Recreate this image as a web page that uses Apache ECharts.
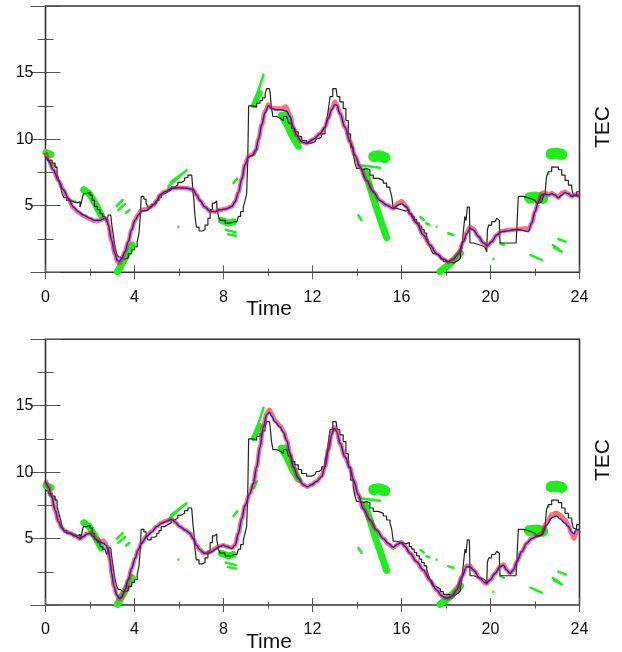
<!DOCTYPE html>
<html>
<head>
<meta charset="utf-8">
<script src="https://cdn.jsdelivr.net/npm/echarts/dist/echarts.min.js"></script>
<style>
  html, body { margin: 0; padding: 0; background: #fff; }
  #chart { width: 622px; height: 652px; }
</style>
</head>
<body>
<div id="chart"></div>
<script>
// Hour-of-day ticks and TEC ticks
const hourTicks = [0, 4, 8, 12, 16, 20, 24];
const tecTicks = [5, 10, 15];

// Observed TEC (stepped record), shared by both panels: [hour, TEC]
const observed = [
  [0.0,8.6],[0.12,8.4],[0.3,8.2],[0.43,7.9],[0.52,7.4],[0.6,6.9],[0.68,6.4],[0.75,5.9],[0.83,5.6],
  [0.95,5.4],[1.1,5.3],[1.25,5.2],[1.4,5.3],[1.55,4.9],[1.63,5.4],[1.7,5.9],[1.85,6.0],[2.0,5.8],
  [2.1,5.4],[2.2,4.95],[2.33,4.7],[2.45,4.4],[2.57,4.2],[2.67,4.05],[2.75,3.8],[2.82,4.3],[2.93,4.4],
  [2.97,3.7],[3.03,3.0],[3.08,2.4],[3.13,1.9],[3.2,1.4],[3.28,1.15],[3.37,1.0],[3.5,1.0],[3.6,1.1],
  [3.72,1.4],[3.87,1.7],[4.0,1.9],[4.12,2.3],[4.2,2.9],[4.26,4.2],[4.3,5.7],[4.42,5.5],[4.52,5.2],
  [4.6,4.9],[4.75,5.1],[4.9,5.2],[5.0,5.4],[5.1,5.6],[5.2,5.9],[5.35,6.05],[5.5,6.2],[5.65,6.4],
  [5.8,6.55],[5.95,6.75],[6.1,6.9],[6.25,7.1],[6.4,7.3],[6.57,7.4],[6.6,6.7],[6.63,6.0],[6.67,5.4],
  [6.72,4.2],[6.78,3.4],[6.9,3.1],[7.05,3.2],[7.17,3.55],[7.3,4.05],[7.4,4.7],[7.5,5.2],[7.6,5.35],
  [7.7,4.9],[7.77,4.2],[7.85,3.9],[8.07,3.7],[8.3,3.8],[8.5,3.8],[8.6,3.9],[8.67,4.2],[8.77,4.55],
  [8.89,4.9],[8.97,5.4],[9.04,5.9],[9.09,8.4],[9.13,12.5],[9.34,12.4],[9.49,12.7],[9.64,12.9],
  [9.75,13.1],[9.87,13.4],[9.94,13.8],[10.06,13.8],[10.1,13.4],[10.15,12.4],[10.22,11.7],[10.39,11.55],
  [10.57,11.4],[10.69,11.7],[10.84,11.55],[10.92,11.2],[11.06,10.8],[11.21,10.55],[11.36,10.2],
  [11.51,9.9],[11.73,9.7],[11.96,9.8],[12.1,9.9],[12.18,10.05],[12.3,10.2],[12.41,10.4],[12.56,10.8],
  [12.64,11.4],[12.71,12.2],[12.79,13.2],[12.91,13.8],[13.06,13.8],[13.11,13.2],[13.23,12.8],
  [13.38,12.3],[13.5,11.4],[13.61,10.4],[13.71,9.4],[13.83,8.9],[13.91,8.2],[13.98,7.8],[14.13,7.7],
  [14.28,7.8],[14.43,7.7],[14.58,7.3],[14.73,7.05],[14.96,6.9],[15.18,6.7],[15.33,6.4],[15.48,6.2],
  [15.56,5.7],[15.63,4.8],[15.78,4.7],[16.0,4.6],[16.2,4.7],[16.35,4.4],[16.46,4.2],[16.57,3.95],
  [16.68,3.7],[16.8,3.45],[16.91,3.2],[17.02,2.95],[17.13,2.7],[17.2,2.3],[17.28,1.9],[17.35,1.6],
  [17.43,1.4],[17.55,1.3],[17.65,1.2],[17.75,1.0],[17.88,0.8],[18.1,0.7],[18.33,0.8],[18.45,0.9],
  [18.55,1.05],[18.65,1.4],[18.7,1.7],[18.78,3.05],[18.85,4.2],[18.9,3.9],[18.96,4.9],[19.05,4.9],
  [19.08,2.2],[19.23,2.05],[19.53,1.9],[19.75,1.9],[19.83,1.55],[19.86,3.2],[19.92,3.55],[20.05,3.8],
  [20.2,3.9],[20.28,4.05],[20.35,3.9],[20.4,3.4],[20.43,2.2],[21.15,2.2],[21.18,3.2],[21.25,5.7],
  [21.48,5.55],[21.78,5.4],[22.0,5.3],[22.07,5.2],[22.2,5.3],[22.3,5.4],[22.37,5.7],[22.45,5.9],
  [22.52,7.2],[22.6,7.55],[22.75,7.9],[22.9,7.9],[23.05,7.7],[23.2,7.3],[23.35,6.9],[23.5,6.55],
  [23.65,6.3],[23.72,5.8],[23.8,5.7],[23.87,6.05],[24.0,6.0]
];

// Model fit, upper panel
const fitUpper = [
  [0.0,8.7],[0.13,8.4],[0.35,7.7],[0.58,6.9],[0.8,6.2],[1.03,5.55],[1.25,4.9],[1.48,4.55],[1.7,4.3],
  [2.0,4.05],[2.22,3.9],[2.45,3.9],[2.67,4.05],[2.75,3.95],[2.82,3.55],[2.97,2.4],[3.12,1.4],[3.23,0.9],
  [3.32,0.8],[3.42,1.05],[3.57,1.55],[3.72,2.3],[3.87,3.2],[4.02,3.9],[4.17,4.3],[4.32,4.6],[4.55,4.65],
  [4.7,4.85],[4.85,5.05],[5.0,5.4],[5.15,5.8],[5.37,6.05],[5.67,6.3],[6.04,6.35],[6.42,6.3],[6.64,6.2],
  [6.79,5.8],[6.94,5.4],[7.17,4.9],[7.39,4.6],[7.62,4.55],[7.84,4.7],[8.14,4.78],[8.37,4.95],[8.52,5.3],
  [8.67,6.0],[8.82,7.0],[8.97,8.1],[9.12,8.65],[9.3,8.8],[9.46,9.2],[9.57,10.0],[9.72,11.1],[9.87,12.0],
  [10.02,12.5],[10.17,12.3],[10.39,12.2],[10.61,12.2],[10.84,12.1],[10.99,11.7],[11.14,10.9],[11.29,10.3],
  [11.51,9.8],[11.74,9.7],[12.04,10.0],[12.34,10.4],[12.56,10.9],[12.71,11.55],[12.86,12.2],[13.01,12.6],
  [13.09,12.55],[13.24,11.9],[13.46,10.9],[13.69,9.8],[13.91,8.8],[14.13,7.9],[14.43,6.9],[14.73,6.05],
  [15.03,5.4],[15.33,5.05],[15.63,4.8],[15.85,5.05],[16.0,5.15],[16.23,4.9],[16.38,4.4],[16.68,3.7],
  [16.98,2.8],[17.28,2.05],[17.58,1.4],[17.88,0.98],[18.1,0.8],[18.33,0.98],[18.55,1.4],[18.78,2.3],
  [18.93,2.9],[19.08,3.3],[19.23,3.2],[19.45,2.7],[19.68,2.2],[19.86,2.0],[20.05,2.3],[20.28,2.8],
  [20.5,3.05],[20.73,3.1],[21.03,3.2],[21.33,3.2],[21.55,3.1],[21.7,3.05],[21.85,3.7],[22.0,4.55],
  [22.15,5.3],[22.3,5.8],[22.45,5.9],[22.6,5.8],[22.75,5.9],[22.9,5.8],[23.05,5.6],[23.2,5.8],
  [23.35,6.0],[23.5,5.9],[23.65,5.7],[23.8,5.8],[24.0,5.7]
];

// Sample estimates, upper panel
const samplesUpper = [
  [0.0,9.0],[0.13,8.5],[0.35,7.7],[0.58,6.9],[0.8,6.2],[1.03,5.5],[1.25,4.85],[1.48,4.5],[1.7,4.25],
  [2.0,4.0],[2.22,3.85],[2.45,3.9],[2.67,4.05],[2.75,3.95],[2.82,3.55],[2.97,2.4],[3.12,1.35],[3.23,0.8],
  [3.32,0.7],[3.42,1.0],[3.57,1.55],[3.72,2.3],[3.87,3.2],[4.02,3.9],[4.17,4.35],[4.32,4.7],[4.55,4.75],
  [4.7,4.9],[4.85,5.05],[5.0,5.4],[5.15,5.8],[5.37,6.05],[5.67,6.3],[6.04,6.35],[6.42,6.3],[6.64,6.2],
  [6.79,5.8],[6.94,5.4],[7.17,4.9],[7.39,4.6],[7.62,4.55],[7.84,4.7],[8.14,4.8],[8.37,4.95],[8.52,5.3],
  [8.67,6.0],[8.82,7.0],[8.97,8.1],[9.12,8.7],[9.3,8.85],[9.46,9.2],[9.57,10.0],[9.72,11.1],[9.87,12.1],
  [10.02,12.6],[10.17,12.35],[10.39,12.3],[10.61,12.3],[10.8,12.45],[10.99,11.8],[11.14,10.9],[11.29,10.3],
  [11.51,9.8],[11.74,9.7],[12.04,10.0],[12.34,10.4],[12.56,10.9],[12.71,11.6],[12.86,12.3],[13.01,12.8],
  [13.09,12.6],[13.24,11.9],[13.46,10.9],[13.69,9.8],[13.91,8.8],[14.13,7.9],[14.43,6.9],[14.73,6.05],
  [15.03,5.4],[15.33,5.05],[15.63,4.8],[15.85,5.2],[16.0,5.35],[16.23,4.95],[16.38,4.4],[16.68,3.7],
  [16.98,2.8],[17.28,2.05],[17.58,1.4],[17.88,0.98],[18.1,0.8],[18.33,0.98],[18.55,1.4],[18.78,2.3],
  [18.93,3.0],[19.08,3.4],[19.23,3.25],[19.45,2.7],[19.68,2.2],[19.86,2.0],[20.05,2.3],[20.28,2.8],
  [20.5,3.1],[20.73,3.15],[21.03,3.2],[21.33,3.25],[21.55,3.3],[21.7,3.2],[21.85,3.7],[22.0,4.55],
  [22.15,5.3],[22.3,5.95],[22.45,6.0],[22.6,5.8],[22.75,5.95],[22.9,5.8],[23.05,5.6],[23.2,5.95],
  [23.35,6.05],[23.5,5.9],[23.65,5.7],[23.8,5.85],[24.0,5.7]
];

// Model fit, lower panel
const fitLower = [
  [0.0,9.3],[0.13,8.9],[0.28,8.15],[0.43,7.15],[0.58,6.3],[0.73,5.8],[0.88,5.5],[1.1,5.4],[1.33,5.2],
  [1.55,5.0],[1.7,5.15],[1.85,5.35],[2.0,5.4],[2.15,5.15],[2.3,4.9],[2.45,4.75],[2.6,4.65],[2.72,4.5],
  [2.82,4.15],[2.9,3.4],[2.97,2.4],[3.08,1.4],[3.2,0.75],[3.32,0.5],[3.42,0.6],[3.57,1.1],[3.72,1.9],
  [3.87,2.75],[4.02,3.5],[4.17,4.15],[4.32,4.65],[4.55,5.15],[4.77,5.5],[5.0,5.9],[5.22,6.15],[5.45,6.3],
  [5.67,6.45],[5.82,6.25],[6.04,5.9],[6.27,5.65],[6.49,5.4],[6.64,5.0],[6.79,4.5],[6.94,4.15],[7.12,3.9],
  [7.32,3.9],[7.47,4.0],[7.62,4.2],[7.84,4.4],[7.99,4.5],[8.14,4.4],[8.37,4.25],[8.52,4.5],[8.67,5.4],
  [8.82,6.5],[8.97,7.5],[9.19,8.4],[9.34,9.15],[9.49,10.4],[9.64,11.9],[9.79,13.4],[9.94,14.3],[10.06,14.5],
  [10.17,14.2],[10.31,13.8],[10.54,13.4],[10.69,13.0],[10.84,12.4],[10.99,11.4],[11.14,10.4],[11.36,9.55],
  [11.59,9.05],[11.77,8.9],[11.96,9.05],[12.18,9.3],[12.41,9.65],[12.56,10.4],[12.71,11.65],[12.86,12.8],
  [12.97,13.3],[13.09,13.05],[13.24,12.15],[13.46,11.15],[13.69,10.3],[13.84,9.4],[14.06,8.3],[14.28,7.25],
  [14.58,6.4],[14.88,5.65],[15.18,5.0],[15.4,4.65],[15.63,4.35],[15.85,4.6],[16.0,4.7],[16.16,4.4],
  [16.38,3.9],[16.68,3.26],[16.98,2.63],[17.28,1.88],[17.58,1.13],[17.81,0.68],[18.03,0.5],[18.26,0.63],
  [18.48,1.13],[18.71,2.13],[18.93,2.88],[19.08,2.88],[19.23,2.63],[19.53,2.0],[19.8,1.63],[19.98,1.88],
  [20.2,2.38],[20.43,2.88],[20.58,3.0],[20.73,2.63],[20.88,2.38],[21.03,2.63],[21.18,3.26],[21.4,4.0],
  [21.63,4.65],[21.85,5.0],[22.07,5.15],[22.3,5.27],[22.52,6.0],[22.75,6.57],[22.97,6.7],[23.12,6.5],
  [23.35,6.15],[23.5,5.9],[23.65,5.5],[23.75,5.35],[23.84,5.65],[24.0,5.7]
];

// Sample estimates, lower panel
const samplesLower = [
  [0.0,9.4],[0.13,8.9],[0.28,8.15],[0.43,7.15],[0.58,6.3],[0.73,5.8],[0.88,5.55],[1.1,5.4],[1.33,5.2],
  [1.55,5.0],[1.7,5.15],[1.85,5.35],[2.0,5.4],[2.15,5.2],[2.3,4.95],[2.45,4.8],[2.6,4.85],[2.72,4.6],
  [2.82,4.2],[2.9,3.4],[2.97,2.4],[3.08,1.4],[3.2,0.75],[3.32,0.45],[3.42,0.6],[3.57,1.1],[3.72,1.9],
  [3.87,2.75],[4.02,3.5],[4.17,4.15],[4.32,4.7],[4.55,5.2],[4.77,5.55],[5.0,5.9],[5.22,6.2],[5.45,6.35],
  [5.67,6.45],[5.82,6.25],[6.04,5.9],[6.27,5.65],[6.49,5.4],[6.64,5.0],[6.79,4.5],[6.94,4.15],[7.12,3.9],
  [7.32,3.95],[7.47,4.05],[7.62,4.25],[7.84,4.45],[7.99,4.5],[8.14,4.4],[8.37,4.3],[8.52,4.5],[8.67,5.4],
  [8.82,6.5],[8.97,7.5],[9.19,8.4],[9.34,9.15],[9.49,10.4],[9.64,11.9],[9.79,13.5],[9.94,14.4],[10.06,14.7],
  [10.17,14.4],[10.31,13.9],[10.54,13.5],[10.69,13.1],[10.84,12.4],[10.99,11.4],[11.14,10.4],[11.36,9.55],
  [11.59,9.05],[11.77,8.9],[11.96,9.05],[12.18,9.3],[12.41,9.7],[12.56,10.4],[12.71,11.7],[12.86,12.9],
  [12.97,13.4],[13.09,13.1],[13.24,12.15],[13.46,11.15],[13.69,10.3],[13.84,9.4],[14.06,8.3],[14.28,7.25],
  [14.58,6.4],[14.88,5.65],[15.18,5.0],[15.4,4.6],[15.63,4.3],[15.85,4.6],[16.0,4.75],[16.16,4.4],
  [16.38,3.9],[16.68,3.26],[16.98,2.6],[17.28,1.85],[17.58,1.13],[17.81,0.68],[18.03,0.5],[18.26,0.63],
  [18.48,1.13],[18.71,2.13],[18.93,2.95],[19.08,2.95],[19.23,2.63],[19.53,2.0],[19.8,1.6],[19.98,1.88],
  [20.2,2.38],[20.43,2.9],[20.58,3.05],[20.73,2.65],[20.88,2.4],[21.03,2.63],[21.18,3.26],[21.4,4.0],
  [21.63,4.65],[21.85,5.0],[22.07,5.2],[22.3,5.35],[22.52,6.2],[22.75,6.8],[22.97,6.95],[23.12,6.8],
  [23.35,6.4],[23.5,6.0],[23.65,5.3],[23.75,5.0],[23.84,5.4],[24.0,5.6]
];

// Individual satellite tracks (shared by both panels), grouped by stroke weight
const tracksBlob = [
  [[14.75,8.7],[15.0,8.75],[15.25,8.6]],
  [[21.75,5.6],[22.05,5.65],[22.35,5.55]],
  [[22.72,8.9],[22.95,8.95],[23.2,8.85]]
];
const tracksWide = [
  [[3.23,0.05],[3.55,1.0],[3.9,2.05]],
  [[17.73,0.05],[18.2,0.65],[18.65,1.45]],
  [[14.36,7.6],[14.85,4.95],[15.33,2.6]],
  [[1.72,6.2],[1.95,5.95],[2.2,5.25],[2.5,4.3]],
  [[10.6,11.8],[10.85,11.1],[11.1,10.2],[11.35,9.5]],
  [[0.02,9.0],[0.25,8.85]],
  [[7.9,3.9],[8.2,3.7],[8.45,3.8]]
];
const tracksMedium = [
  [[9.35,12.5],[9.65,13.5]],
  [[10.75,11.9],[11.0,11.0],[11.3,9.8]],
  [[10.9,10.9],[11.15,10.0],[11.4,9.4]]
];
const tracksThin = [
  [[0.15,8.3],[0.45,7.95]],
  [[1.0,5.45],[1.35,5.3]],
  [[3.2,4.98],[3.47,5.43]],
  [[3.27,4.68],[3.57,5.13]],
  [[3.62,4.48],[3.77,4.68]],
  [[5.52,6.45],[6.05,7.25]],
  [[5.65,6.8],[6.34,7.65]],
  [[8.1,3.2],[8.55,3.0]],
  [[8.2,2.85],[8.55,2.75]],
  [[8.45,6.7],[8.62,7.05]],
  [[9.37,8.8],[9.5,9.3]],
  [[9.3,12.6],[9.55,13.6],[9.8,14.85]],
  [[14.06,8.05],[15.03,7.85]],
  [[14.06,4.3],[14.2,3.93]],
  [[16.85,4.15],[17.0,3.95]],
  [[17.12,3.68],[17.25,3.58]],
  [[18.1,2.93],[18.33,2.8]],
  [[20.43,2.18],[20.6,2.05]],
  [[21.8,1.3],[22.3,0.93]],
  [[22.8,2.05],[23.1,1.7]],
  [[22.85,1.85],[23.2,1.55]],
  [[23.05,2.5],[23.38,2.3]]
];
const trackDots = [[5.97,3.43],[17.58,3.43],[20.13,1.0],[22.6,7.4]];

const FONT = '"Liberation Sans", Arial, Helvetica, sans-serif';
const GREEN = '#1eee1e';

const panels = [
  { top: 6, height: 266.3, fit: fitUpper, samples: samplesUpper, timeY: 309, tecY: 127 },
  { top: 339.3, height: 265.7, fit: fitLower, samples: samplesLower, timeY: 642, tecY: 460 }
];

const grids = [], xAxes = [], yAxes = [], series = [], graphics = [];

panels.forEach((p, i) => {
  grids.push({
    left: 45.5, top: p.top, width: 534, height: p.height,
    show: true, borderColor: '#333', borderWidth: 1.6, backgroundColor: 'transparent'
  });
  const xBase = {
    type: 'value', gridIndex: i, min: 0, max: 24, interval: 4,
    axisLine: { show: false },
    splitLine: { show: false },
    axisTick: { inside: true, length: 7, lineStyle: { color: '#555', width: 1 } },
    minorTick: { show: true, splitNumber: 2, length: 3.5, lineStyle: { color: '#555', width: 1 } }
  };
  xAxes.push(Object.assign({}, xBase, {
    position: 'bottom',
    axisLabel: {
      fontFamily: FONT, fontSize: 16, color: '#111', margin: 17,
      formatter: v => hourTicks.includes(v) ? String(v) : ''
    }
  }));
  xAxes.push(Object.assign({}, xBase, { position: 'top', axisLabel: { show: false } }));
  const yBase = {
    type: 'value', gridIndex: i, min: 0, max: 20, interval: 5,
    axisLine: { show: false },
    splitLine: { show: false },
    axisTick: { inside: true, length: 15, lineStyle: { color: '#555', width: 1 } },
    minorTick: { show: true, splitNumber: 2, length: 8, lineStyle: { color: '#555', width: 1 } }
  };
  yAxes.push(Object.assign({}, yBase, {
    position: 'left',
    axisLabel: {
      fontFamily: FONT, fontSize: 16, color: '#111', margin: 12,
      formatter: v => tecTicks.includes(v) ? String(v) : ''
    }
  }));
  yAxes.push(Object.assign({}, yBase, { position: 'right', axisLabel: { show: false } }));

  const xi = i * 2, yi = i * 2;

  // satellite tracks
  [[tracksBlob, 11], [tracksWide, 7], [tracksMedium, 5], [tracksThin, 2.5]].forEach(([set, w]) => {
    series.push({
      type: 'lines', coordinateSystem: 'cartesian2d', xAxisIndex: xi, yAxisIndex: yi,
      polyline: true, silent: true, z: 2,
      lineStyle: { color: GREEN, width: w, opacity: 1, cap: 'round', join: 'round' },
      data: set.map(c => ({ coords: c }))
    });
  });
  series.push({
    type: 'scatter', xAxisIndex: xi, yAxisIndex: yi, symbolSize: 3, z: 2,
    itemStyle: { color: GREEN }, data: trackDots
  });

  // stepped observation record
  series.push({
    type: 'line', xAxisIndex: xi, yAxisIndex: yi, step: 'end', showSymbol: false, z: 3,
    lineStyle: { color: '#222', width: 1.2 }, data: observed
  });

  // sample estimates (red band)
  series.push({
    type: 'line', xAxisIndex: xi, yAxisIndex: yi, smooth: 0.35, smoothMonotone: 'x',
    showSymbol: false, z: 4,
    lineStyle: { color: 'rgba(255,25,25,0.62)', width: 4.5 }, data: p.samples
  });

  // model fit (thin blue)
  series.push({
    type: 'line', xAxisIndex: xi, yAxisIndex: yi, smooth: 0.35, smoothMonotone: 'x',
    showSymbol: false, z: 5,
    lineStyle: { color: '#2020e8', width: 1.5 }, data: p.fit
  });

  graphics.push({
    type: 'text', x: 269, y: p.timeY,
    style: { text: 'Time', font: '21px ' + FONT, fill: '#111', textAlign: 'center', textVerticalAlign: 'middle' }
  });
  graphics.push({
    type: 'text', x: 603, y: p.tecY, rotation: Math.PI / 2,
    style: { text: 'TEC', font: '21px ' + FONT, fill: '#111', textAlign: 'center', textVerticalAlign: 'middle' }
  });
});

const chart = echarts.init(document.getElementById('chart'), null, { renderer: 'canvas' });
chart.setOption({
  animation: false,
  backgroundColor: '#fff',
  grid: grids,
  xAxis: xAxes,
  yAxis: yAxes,
  series: series,
  graphic: graphics
});
</script>
</body>
</html>
